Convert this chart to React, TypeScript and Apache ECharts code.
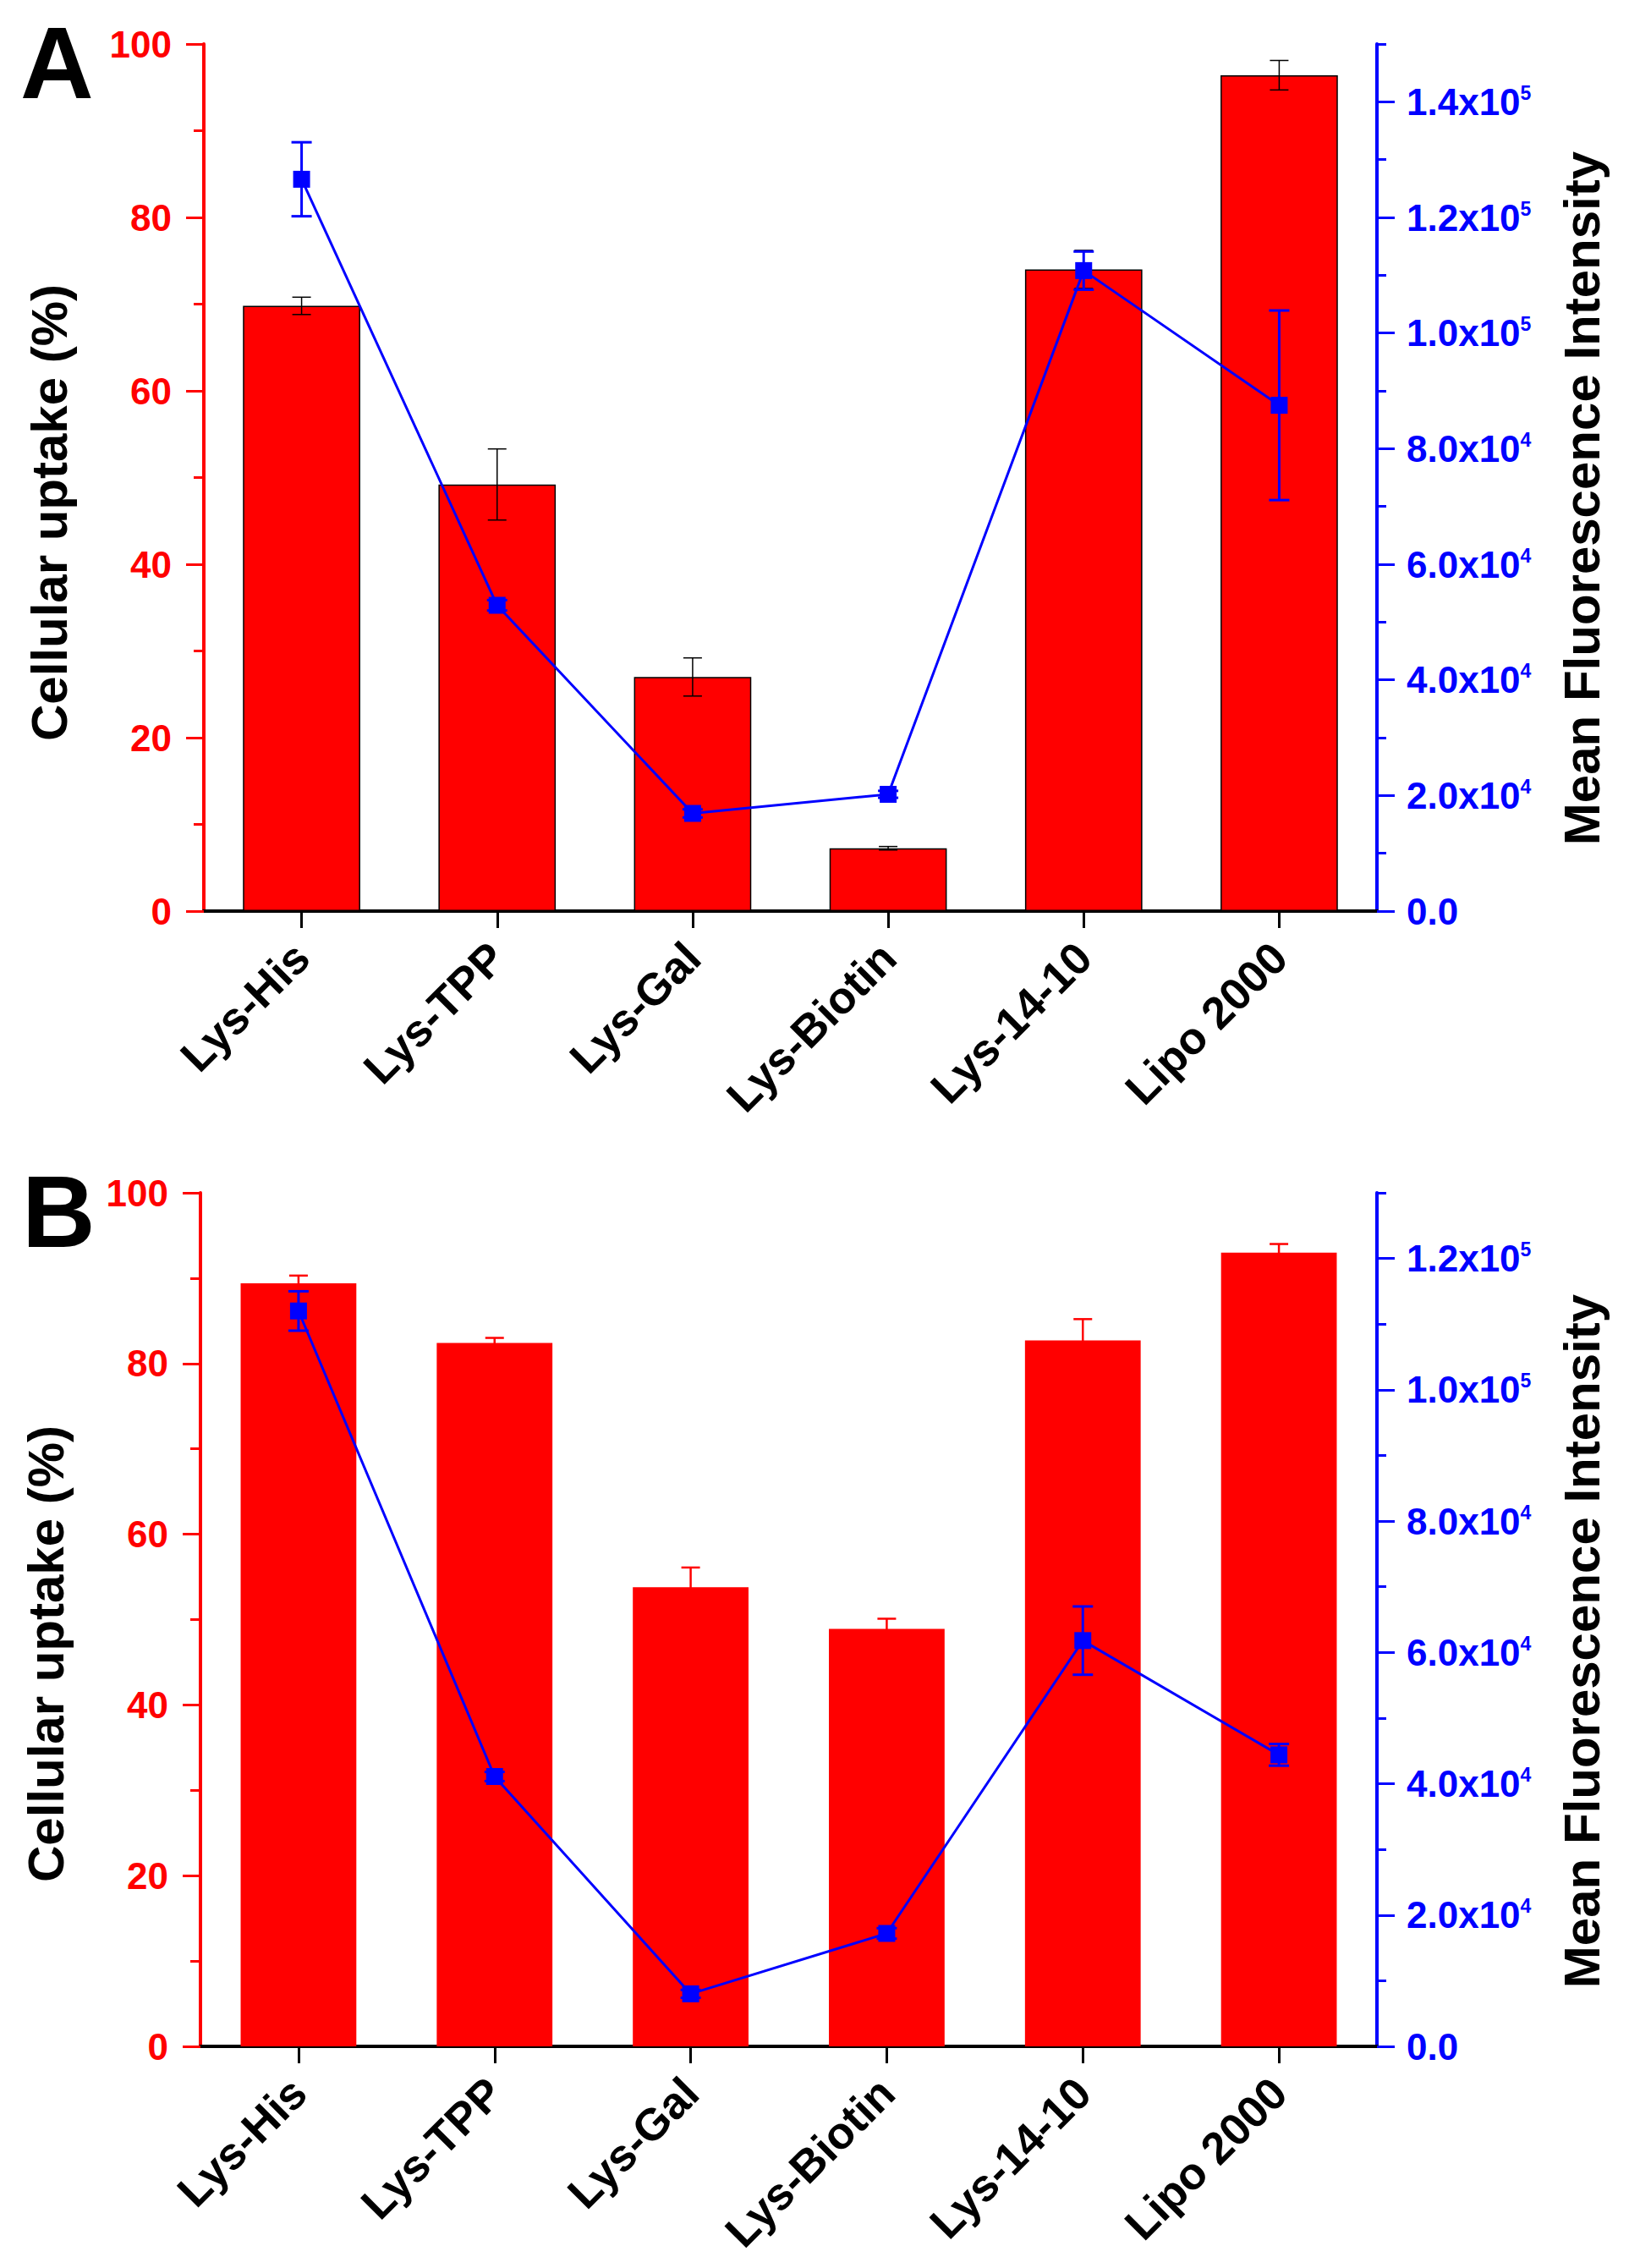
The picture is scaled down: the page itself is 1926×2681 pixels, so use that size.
import React, { useEffect, useRef } from 'react';
import * as echarts from 'echarts';

const categories = ['Lys-His', 'Lys-TPP', 'Lys-Gal', 'Lys-Biotin', 'Lys-14-10', 'Lipo 2000'];

// Panel A
const uptakeA = [69.8, 49.2, 27.0, 7.25, 74.0, 96.4];
const uptakeErrA = [1.0, 4.1, 2.2, 0.2, 2.2, 1.7];
const mfiA = [126600, 52900, 16900, 20200, 110800, 87500];
const mfiErrA = [6400, 900, 700, 600, 3300, 16400];

// Panel B
const uptakeB = [89.4, 82.4, 53.8, 48.9, 82.7, 93.0];
const uptakeErrB = [0.9, 0.6, 2.3, 1.2, 2.5, 1.0];
const mfiB = [112000, 41100, 8000, 17200, 61800, 44400];
const mfiErrB = [3000, 700, 600, 800, 5200, 1650];

// Axis ticks
const leftMax = 100;
const leftInterval = 20;
const rightMaxA = 150000;
const rightMaxB = 130000;
const rightMajorA = [0, 20000, 40000, 60000, 80000, 100000, 120000, 140000];
const rightMinorA = [10000, 30000, 50000, 70000, 90000, 110000, 130000, 150000];
const rightMajorB = [0, 20000, 40000, 60000, 80000, 100000, 120000];
const rightMinorB = [10000, 30000, 50000, 70000, 90000, 110000, 130000];

const FONT = "'Liberation Sans', Arial, Helvetica, sans-serif";
const RED = '#FF0000';
const BLUE = '#0000FF';

function sciLabel(v: number): string {
  if (v === 0) return '{n|0.0}';
  const exp = Math.floor(Math.log10(v) + 1e-9);
  const m = (v / Math.pow(10, exp)).toFixed(1);
  return `{n|${m}x10}{s|${exp}}`;
}

function errorSeries(
  vals: number[],
  errs: number[],
  xAxisIndex: number,
  yAxisIndex: number,
  color: string,
  lineWidth: number,
  cap: number,
  z: number
) {
  return {
    type: 'custom',
    xAxisIndex,
    yAxisIndex,
    z,
    silent: true,
    encode: { x: 0, y: [1, 2] },
    data: vals.map((v, i) => [i, v - errs[i], v + errs[i]]),
    renderItem: (params: any, api: any) => {
      const x = api.value(0);
      const lo = api.coord([x, api.value(1)]);
      const hi = api.coord([x, api.value(2)]);
      const hw = cap / 2;
      const style = { stroke: color, lineWidth };
      return {
        type: 'group',
        children: [
          { type: 'line', shape: { x1: hi[0], y1: hi[1], x2: lo[0], y2: lo[1] }, style },
          { type: 'line', shape: { x1: hi[0] - hw, y1: hi[1], x2: hi[0] + hw, y2: hi[1] }, style },
          { type: 'line', shape: { x1: lo[0] - hw, y1: lo[1], x2: lo[0] + hw, y2: lo[1] }, style },
        ],
      };
    },
  };
}

function xAxes(gridIndex: number) {
  return [
    {
      type: 'category',
      gridIndex,
      position: 'bottom',
      data: categories,
      axisLine: { lineStyle: { color: '#000', width: 4 } },
      axisTick: { show: true, alignWithLabel: true, length: 20, lineStyle: { color: '#000', width: 3 } },
      axisLabel: {
        rotate: 45,
        margin: 46,
        color: '#000',
        fontSize: 53,
        fontWeight: 'bold',
        fontFamily: FONT,
        interval: 0,
      },
      splitLine: { show: false },
    },
    {
      type: 'category',
      gridIndex,
      position: 'top',
      data: categories,
      axisLine: { lineStyle: { color: '#000', width: 4 } },
      axisTick: { show: false },
      axisLabel: { show: false },
      splitLine: { show: false },
    },
  ];
}

function yAxes(gridIndex: number, rightMax: number, major: number[], minor: number[]) {
  return [
    {
      type: 'value',
      gridIndex,
      position: 'left',
      min: 0,
      max: leftMax,
      interval: leftInterval,
      axisLine: { show: true, lineStyle: { color: RED, width: 4 } },
      axisTick: { show: true, length: 21, lineStyle: { color: RED, width: 3 } },
      minorTick: { show: true, splitNumber: 2, length: 12, lineStyle: { color: RED, width: 3 } },
      axisLabel: {
        color: RED,
        fontSize: 44,
        fontWeight: 'bold',
        fontFamily: FONT,
        margin: 38,
      },
      splitLine: { show: false },
      minorSplitLine: { show: false },
    },
    {
      type: 'value',
      gridIndex,
      position: 'right',
      min: 0,
      max: rightMax,
      interval: 10000,
      axisLine: { show: true, lineStyle: { color: BLUE, width: 4 } },
      axisTick: { show: true, customValues: major, length: 21, lineStyle: { color: BLUE, width: 3 } },
      axisLabel: {
        customValues: major,
        margin: 35,
        formatter: (v: number) => sciLabel(v),
        rich: {
          n: { color: BLUE, fontSize: 44, fontWeight: 'bold', fontFamily: FONT },
          s: { color: BLUE, fontSize: 23, fontWeight: 'bold', fontFamily: FONT, verticalAlign: 'top' },
        },
      },
      splitLine: { show: false },
    },
    {
      type: 'value',
      gridIndex,
      position: 'right',
      min: 0,
      max: rightMax,
      interval: 10000,
      axisLine: { show: false },
      axisTick: { show: true, customValues: minor, length: 11, lineStyle: { color: BLUE, width: 3 } },
      axisLabel: { show: false },
      splitLine: { show: false },
    },
  ];
}

export default function App() {
  const ref = useRef<HTMLDivElement>(null);

  useEffect(() => {
    if (!ref.current) return;
    const chart = echarts.init(ref.current, undefined, { renderer: 'svg' });

    const titleStyle = { fill: '#000', fontSize: 60, fontWeight: 'bold', fontFamily: FONT, textAlign: 'center', textVerticalAlign: 'middle' };

    const option: any = {
      animation: false,
      backgroundColor: '#fff',
      grid: [
        { left: 241, top: 52, right: 298, bottom: 1604 },
        { left: 237, top: 1410, right: 298, bottom: 262 },
      ],
      xAxis: [...xAxes(0), ...xAxes(1)],
      yAxis: [
        ...yAxes(0, rightMaxA, rightMajorA, rightMinorA),
        ...yAxes(1, rightMaxB, rightMajorB, rightMinorB),
      ],
      graphic: [
        { type: 'text', x: 24, y: 74, style: { text: 'A', fill: '#000', fontSize: 120, fontWeight: 'bold', fontFamily: FONT, textAlign: 'left', textVerticalAlign: 'middle' } },
        { type: 'text', x: 26, y: 1432, style: { text: 'B', fill: '#000', fontSize: 120, fontWeight: 'bold', fontFamily: FONT, textAlign: 'left', textVerticalAlign: 'middle' } },
        { type: 'text', x: 58, y: 606, rotation: Math.PI / 2, style: { text: 'Cellular uptake (%)', ...titleStyle } },
        { type: 'text', x: 54, y: 1955, rotation: Math.PI / 2, style: { text: 'Cellular uptake (%)', ...titleStyle } },
        { type: 'text', x: 1870, y: 589, rotation: Math.PI / 2, style: { text: 'Mean Fluorescence Intensity', ...titleStyle } },
        { type: 'text', x: 1870, y: 1940, rotation: Math.PI / 2, style: { text: 'Mean Fluorescence Intensity', ...titleStyle } },
      ],
      series: [
        {
          type: 'bar',
          xAxisIndex: 0,
          yAxisIndex: 0,
          barWidth: '60%',
          z: 2,
          data: uptakeA,
          itemStyle: { color: RED, borderColor: '#000', borderWidth: 1.5 },
        },
        errorSeries(uptakeA, uptakeErrA, 0, 0, '#000', 1.5, 22, 3),
        {
          type: 'line',
          xAxisIndex: 0,
          yAxisIndex: 1,
          z: 4,
          data: mfiA,
          symbol: 'rect',
          symbolSize: 20,
          lineStyle: { color: BLUE, width: 3 },
          itemStyle: { color: BLUE },
        },
        errorSeries(mfiA, mfiErrA, 0, 1, BLUE, 3, 24, 5),
        {
          type: 'bar',
          xAxisIndex: 2,
          yAxisIndex: 3,
          barWidth: '59%',
          z: 2,
          data: uptakeB,
          itemStyle: { color: RED },
        },
        errorSeries(uptakeB, uptakeErrB, 2, 3, RED, 2.5, 22, 3),
        {
          type: 'line',
          xAxisIndex: 2,
          yAxisIndex: 4,
          z: 4,
          data: mfiB,
          symbol: 'rect',
          symbolSize: 20,
          lineStyle: { color: BLUE, width: 3 },
          itemStyle: { color: BLUE },
        },
        errorSeries(mfiB, mfiErrB, 2, 4, BLUE, 3, 24, 5),
      ],
    };

    chart.setOption(option);
    return () => chart.dispose();
  }, []);

  return (
    <div
      ref={ref}
      style={{ position: 'absolute', left: 0, top: 0, width: 1926, height: 2681, background: '#fff' }}
    />
  );
}
